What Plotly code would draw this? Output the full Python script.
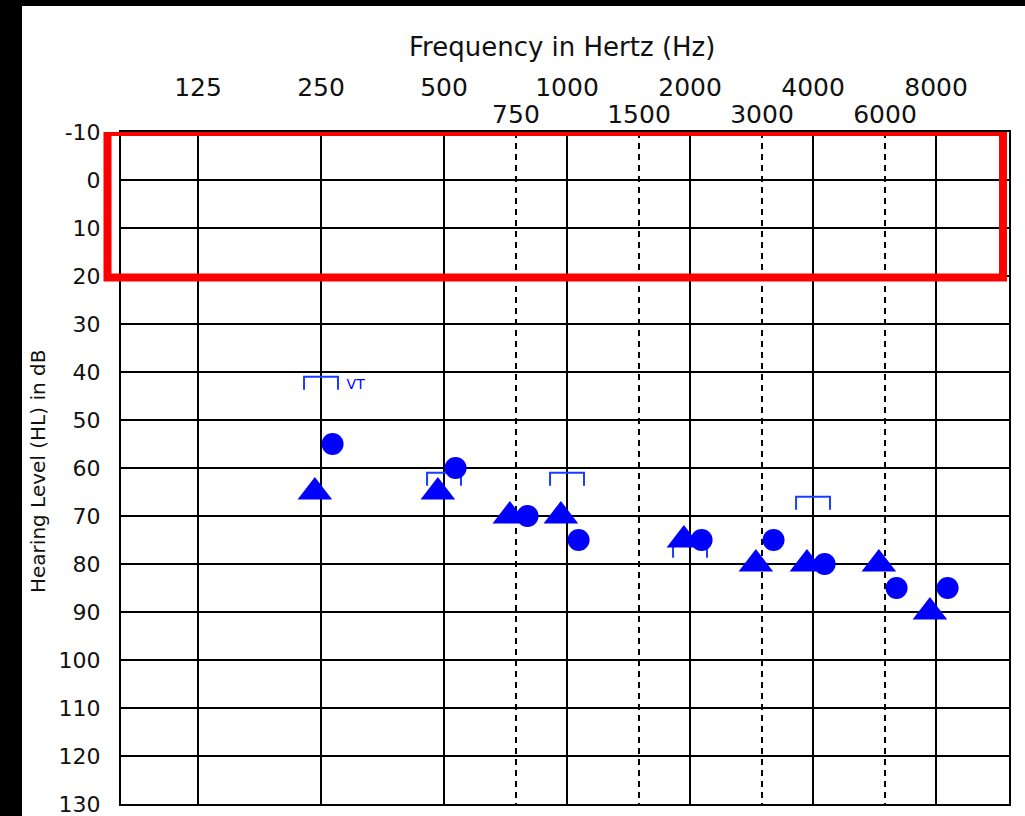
import numpy as np
import plotly.graph_objects as go

# Audiometric test frequencies (Hz) and hearing-level scale (dB HL)
octave_freqs = [125, 250, 500, 1000, 2000, 4000, 8000]
mid_freqs = [750, 1500, 3000, 6000]
db_ticks = list(range(-10, 131, 10))

# Thresholds shown with filled circles
circle_freqs = [250, 500, 750, 1000, 2000, 3000, 4000, 6000, 8000]
circle_db = [55, 60, 70, 75, 75, 75, 80, 85, 85]

# Thresholds shown with filled triangles
triangle_freqs = [250, 500, 750, 1000, 2000, 3000, 4000, 6000, 8000]
triangle_db = [65, 65, 70, 70, 75, 80, 80, 80, 90]

# Bracket symbols (top edge level)
bracket_freqs = [250, 500, 1000, 2000, 4000]
bracket_db = [41, 61, 61, 76, 66]
bracket_note = "VT"

BLUE = "#0000FF"
FONT = "DejaVu Sans"

# symbol offsets along the frequency axis, in octaves
CIRCLE_SHIFT = 0.094
TRIANGLE_SHIFT = -0.05
BRACKET_HALF = 0.138   # half-width in octaves
BRACKET_LEG = 2.7      # leg length in dB

W, H = 1025, 816
ML, MR, MT, MB = 121, 16, 132, 12
PW, PH = W - ML - MR, H - MT - MB

def px_x(p):
    return (p - ML) / PW

def px_y(p):
    return 1 - (p - MT) / PH

x_range = [np.log10(125) - 0.626 * np.log10(2), np.log10(8000) + 0.593 * np.log10(2)]

bx, by = [], []
for f, d in zip(bracket_freqs, bracket_db):
    lo, hi = f * 2 ** -BRACKET_HALF, f * 2 ** BRACKET_HALF
    bx += [lo, lo, hi, hi, None]
    by += [d + BRACKET_LEG, d, d, d + BRACKET_LEG, None]

fig = go.Figure()
fig.add_trace(go.Scatter(x=bx, y=by, mode="lines",
                         line=dict(color="#1a3cff", width=2), hoverinfo="skip"))
fig.add_trace(go.Scatter(x=[bracket_freqs[0] * 2 ** (BRACKET_HALF + 0.07)],
                         y=[bracket_db[0] + 1.9], mode="text", text=[bracket_note],
                         textposition="middle right",
                         textfont=dict(family=FONT, size=14, color=BLUE)))
fig.add_trace(go.Scatter(x=np.array(triangle_freqs) * 2 ** TRIANGLE_SHIFT, y=triangle_db,
                         mode="markers", xaxis="x2",
                         marker=dict(symbol="triangle-up", size=30, color=BLUE,
                                     line=dict(width=0))))
fig.add_trace(go.Scatter(x=np.array(circle_freqs) * 2 ** CIRCLE_SHIFT, y=circle_db,
                         mode="markers",
                         marker=dict(symbol="circle", size=22, color=BLUE,
                                     line=dict(width=0))))

fig.update_layout(
    width=W, height=H,
    margin=dict(l=ML, r=MR, t=MT, b=MB, autoexpand=False),
    paper_bgcolor="white", plot_bgcolor="white",
    showlegend=False,
    font=dict(family=FONT, color="black"),
    xaxis=dict(type="log", range=x_range, autorange=False, side="top",
               tickmode="array", tickvals=octave_freqs,
               ticktext=[str(v) for v in octave_freqs],
               tickfont=dict(family=FONT, size=25, color="#111"),
               ticks="", ticklabelstandoff=24,
               showgrid=True, gridcolor="black", gridwidth=2,
               zeroline=False, showline=True, mirror=True,
               linecolor="black", linewidth=2, fixedrange=True),
    xaxis2=dict(type="log", range=x_range, autorange=False, side="top",
                overlaying="x", tickmode="array", tickvals=mid_freqs,
                ticktext=[str(v) for v in mid_freqs],
                tickfont=dict(family=FONT, size=25, color="#111"),
                ticks="", ticklabelstandoff=3,
                showgrid=True, gridcolor="black", gridwidth=2,
                griddash="6px,5px", zeroline=False, showline=False,
                fixedrange=True),
    yaxis=dict(range=[130, -10], autorange=False,
               tickmode="array", tickvals=db_ticks,
               ticktext=[str(v) for v in db_ticks],
               tickfont=dict(family=FONT, size=22, color="#111"),
               ticks="", ticklabelstandoff=14, ticklabeloverflow="allow",
               showgrid=True, gridcolor="black", gridwidth=2,
               zeroline=False, showline=True, mirror=True,
               linecolor="black", linewidth=2, fixedrange=True),
    shapes=[
        # dark frame strips along the left and top edges
        dict(type="rect", xref="paper", yref="paper",
             x0=px_x(-10), x1=px_x(22), y0=px_y(H + 10), y1=px_y(-10),
             fillcolor="black", line=dict(width=0), layer="above"),
        dict(type="rect", xref="paper", yref="paper",
             x0=px_x(-10), x1=px_x(W + 10), y0=px_y(6), y1=px_y(-10),
             fillcolor="black", line=dict(width=0), layer="above"),
        # normal-hearing band highlight
        dict(type="rect", xref="paper", yref="y",
             x0=px_x(107.5), x1=px_x(1003), y0=-10, y1=20.3,
             line=dict(color="#FF0000", width=8), fillcolor="rgba(0,0,0,0)",
             layer="above"),
    ],
    annotations=[
        dict(text="Frequency in Hertz (Hz)", xref="paper", yref="paper",
             x=px_x(562), y=px_y(47), xanchor="center", yanchor="middle",
             showarrow=False, font=dict(family=FONT, size=26, color="#111")),
        dict(text="Hearing Level (HL) in dB", xref="paper", yref="paper",
             x=px_x(38), y=px_y(472), xanchor="center", yanchor="middle",
             textangle=-90, showarrow=False,
             font=dict(family=FONT, size=20, color="#111")),
    ],
)

fig.write_html("out.html", config={"displayModeBar": False, "staticPlot": True})
